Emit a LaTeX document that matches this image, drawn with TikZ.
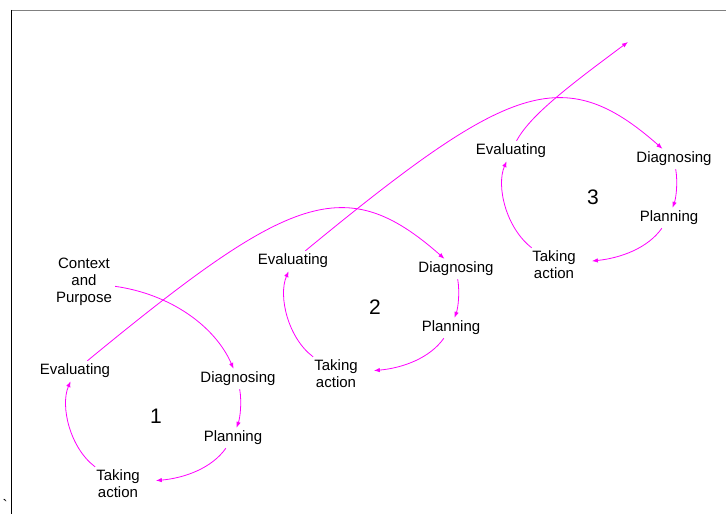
\documentclass[tikz,border=0pt]{standalone}
\usepackage{fontspec}
\setmainfont{Liberation Sans}
\usetikzlibrary{arrows.meta}
\definecolor{loopmagenta}{RGB}{255,0,255}
\begin{document}
\begin{tikzpicture}[>={Latex[length=6bp,width=4.5bp]},line join=bevel,
  stage/.style={font=\fontsize{15bp}{17bp}\selectfont,align=center,inner sep=3bp},
  wide/.style={inner xsep=16bp},
  cyclenum/.style={font=\fontsize{21bp}{24bp}\selectfont},
  flow/.style={loopmagenta,line width=0.8bp,->}]
%%
\useasboundingbox (0bp,0bp) rectangle (726bp,514bp);
\draw [gray,line width=1bp] (11bp,503.5bp) -- (726bp,503.5bp);
\draw [black,line width=1.2bp] (11.5bp,504bp) -- (11.5bp,0bp);
\node (node_tick) at (5bp,4bp) [draw,draw=none,anchor=base,inner sep=0bp,font=\fontsize{15bp}{17bp}\selectfont] {\textasciigrave};
%
\begin{scope}[yshift=-2bp]
\node (node_context) at (84bp,234bp) [draw,draw=none,stage] {Context\\and\\Purpose};
  \node (node_eval_1) at (75bp,145bp) [draw,draw=none,stage] {Evaluating};
  \node (node_diag_1) at (238bp,137bp) [draw,draw=none,stage] {Diagnosing};
  \node (node_plan_1) at (233bp,78bp) [draw,draw=none,stage] {Planning};
  \node (node_take_1) at (118bp,32bp) [draw,draw=none,stage,wide] {Taking\\action};
  \node (node_num_1) at (156bp,100bp) [draw,draw=none,cyclenum] {1};
  \node (node_eval_2) at (293bp,255bp) [draw,draw=none,stage] {Evaluating};
  \node (node_diag_2) at (456bp,247bp) [draw,draw=none,stage] {Diagnosing};
  \node (node_plan_2) at (451bp,188bp) [draw,draw=none,stage] {Planning};
  \node (node_take_2) at (336bp,142bp) [draw,draw=none,stage,wide] {Taking\\action};
  \node (node_num_2) at (375bp,209bp) [draw,draw=none,cyclenum] {2};
  \node (node_eval_3) at (511bp,365bp) [draw,draw=none,stage] {Evaluating};
  \node (node_diag_3) at (674bp,357bp) [draw,draw=none,stage] {Diagnosing};
  \node (node_plan_3) at (669bp,298bp) [draw,draw=none,stage] {Planning};
  \node (node_take_3) at (554bp,251bp) [draw,draw=none,stage,wide] {Taking\\action};
  \node (node_num_3) at (593bp,319bp) [draw,draw=none,cyclenum] {3};
  \coordinate (node_out) at (628bp,474bp);
%
  \draw [flow] (node_context) ..controls (170bp,222bp) and (215bp,190bp)  .. (node_diag_1);
  \draw [flow] (node_diag_1) ..controls (242bp,113bp) and (240bp,98bp)  .. (node_plan_1);
  \draw [flow] (node_plan_1) ..controls (212bp,48bp) and (185bp,38bp)  .. (node_take_1);
  \draw [flow] (node_take_1) ..controls (70bp,68bp) and (60bp,110bp)  .. (node_eval_1);
  \draw [flow] (node_eval_1) ..controls (290bp,322bp) and (345bp,345bp)  .. (node_diag_2);
  \draw [flow] (node_diag_2) ..controls (460bp,223bp) and (458bp,208bp)  .. (node_plan_2);
  \draw [flow] (node_plan_2) ..controls (430bp,158bp) and (403bp,148bp)  .. (node_take_2);
  \draw [flow] (node_take_2) ..controls (288bp,178bp) and (278bp,220bp)  .. (node_eval_2);
  \draw [flow] (node_eval_2) ..controls (508bp,432bp) and (563bp,455bp)  .. (node_diag_3);
  \draw [flow] (node_diag_3) ..controls (678bp,333bp) and (676bp,318bp)  .. (node_plan_3);
  \draw [flow] (node_plan_3) ..controls (648bp,268bp) and (621bp,258bp)  .. (node_take_3);
  \draw [flow] (node_take_3) ..controls (506bp,288bp) and (496bp,330bp)  .. (node_eval_3);
  \draw [flow] (node_eval_3) ..controls (530bp,400bp) and (566bp,428bp)  .. (node_out);
\end{scope}
%
\end{tikzpicture}
\end{document}
